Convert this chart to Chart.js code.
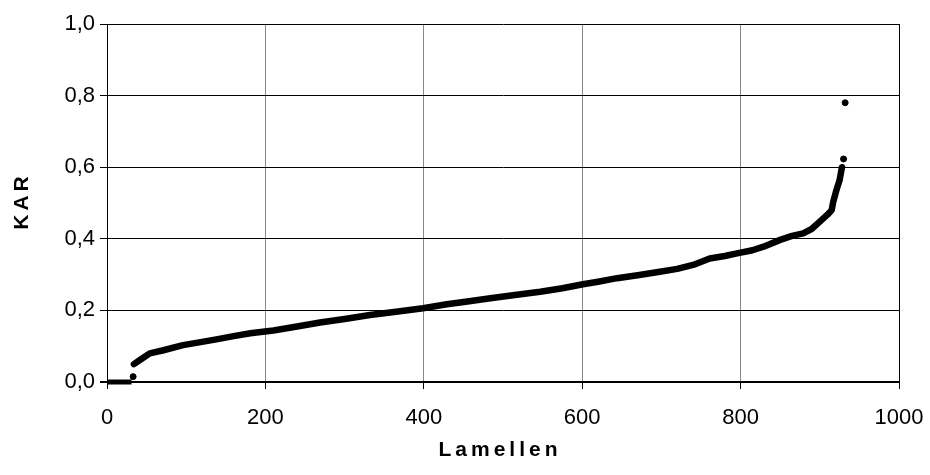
<!DOCTYPE html>
<html>
<head>
<meta charset="utf-8">
<script src="https://cdn.jsdelivr.net/npm/chart.js@4/dist/chart.umd.min.js"></script>
<style>
  html, body { margin: 0; padding: 0; background: #fff; }
  #wrap { width: 930px; height: 475px; }
</style>
</head>
<body>
<div id="wrap"><canvas id="kar"></canvas></div>
<script>
// sorted KAR values per lamella
const zeroLamellen = [1, 31];
const zeroKar = [0, 0];

const lamellen = [34, 42, 54, 70, 96, 120, 138, 160, 181, 210, 240, 269, 300, 332, 365,
  399, 429, 455, 484, 515, 547, 575, 601, 620, 644, 670, 698, 720, 740, 761, 780, 797,
  815, 829, 850, 865, 879, 890, 900, 910, 915, 917, 921, 925, 928];
const kar = [0.05, 0.062, 0.08, 0.088, 0.103, 0.112, 0.119, 0.128, 0.136, 0.144, 0.155,
  0.166, 0.176, 0.187, 0.196, 0.206, 0.217, 0.225, 0.234, 0.243, 0.252, 0.262, 0.273,
  0.28, 0.29, 0.298, 0.308, 0.316, 0.327, 0.345, 0.352, 0.36, 0.368, 0.378, 0.397,
  0.408, 0.415, 0.428, 0.448, 0.468, 0.48, 0.504, 0.536, 0.564, 0.6];

// single lamellae off the main band
const singleLamellen = [33, 930, 932];
const singleKar = [0.015, 0.623, 0.78];

const xTicks = [0, 200, 400, 600, 800, 1000];
const yTicks = [0, 0.2, 0.4, 0.6, 0.8, 1.0];

const xTitle = "Lamellen";
const yTitle = "KAR";

const pts = (xs, ys) => xs.map((x, i) => ({ x: x, y: ys[i] }));
const family = "'Liberation Sans', Arial, sans-serif";
const tickFont = { family: family, size: 22 };

// axis titles are drawn by hand so they can get letter spacing
const axisTitles = {
  id: "axisTitles",
  afterDraw(chart) {
    const a = chart.chartArea;
    const c = chart.ctx;
    c.save();
    c.fillStyle = "#000";
    c.font = "bold 21px " + family;
    c.letterSpacing = "4px";
    c.textAlign = "center";
    c.textBaseline = "middle";
    c.fillText(xTitle, (a.left + a.right) / 2 - 3, 450);
    c.translate(22, (a.top + a.bottom) / 2);
    c.rotate(-Math.PI / 2);
    c.fillText(yTitle, 2, 0);
    c.restore();
  },
};

const rightBorder = {
  id: "rightBorder",
  afterDraw(chart) {
    const a = chart.chartArea;
    const c = chart.ctx;
    c.save();
    c.strokeStyle = "#000";
    c.lineWidth = 1;
    c.beginPath();
    c.moveTo(a.right + 0.5, a.top);
    c.lineTo(a.right + 0.5, a.bottom);
    c.stroke();
    c.restore();
  },
};

const ctx = document.getElementById("kar").getContext("2d");

new Chart(ctx, {
  type: "scatter",
  data: {
    datasets: [
      {
        data: pts(zeroLamellen, zeroKar),
        showLine: true,
        borderColor: "#000",
        borderWidth: 5,
        pointRadius: 0,
        clip: 8,
      },
      {
        data: pts(lamellen, kar),
        showLine: true,
        borderColor: "#000",
        borderWidth: 6.5,
        borderCapStyle: "round",
        borderJoinStyle: "round",
        pointRadius: 0,
        clip: 8,
      },
      {
        data: pts(singleLamellen, singleKar),
        backgroundColor: "#000",
        borderColor: "#000",
        pointRadius: 3,
        clip: 8,
      },
    ],
  },
  options: {
    responsive: true,
    maintainAspectRatio: false,
    animation: false,
    layout: {
      padding: { left: 0, right: 31, top: 24, bottom: 0 },
    },
    plugins: {
      legend: { display: false },
      tooltip: { enabled: false },
    },
    scales: {
      x: {
        type: "linear",
        min: 0,
        max: 1000,
        afterBuildTicks: (scale) => {
          scale.ticks = xTicks.map((v) => ({ value: v }));
        },
        afterFit: (scale) => {
          scale.height = 93;
          scale.paddingRight = 0;
          scale.paddingLeft = 0;
        },
        grid: {
          color: "#888",
          lineWidth: 1,
          tickColor: "#000",
          tickLength: 7,
        },
        border: { color: "#000", width: 2 },
        ticks: {
          color: "#000",
          font: tickFont,
          padding: 16,
          maxRotation: 0,
          callback: (v) => String(v),
        },
      },
      y: {
        min: 0,
        max: 1,
        afterBuildTicks: (scale) => {
          scale.ticks = yTicks.map((v) => ({ value: v }));
        },
        afterFit: (scale) => {
          scale.width = 107;
        },
        grid: {
          color: "#000",
          lineWidth: (c) => (c.tick && c.tick.value === 0 ? 2 : 1),
          tickColor: "#000",
          tickLength: 7,
        },
        border: { color: "#000", width: 1 },
        ticks: {
          color: "#000",
          font: tickFont,
          padding: 5,
          callback: (v) => v.toFixed(1).replace(".", ","),
        },
      },
    },
  },
  plugins: [axisTitles, rightBorder],
});
</script>
</body>
</html>
